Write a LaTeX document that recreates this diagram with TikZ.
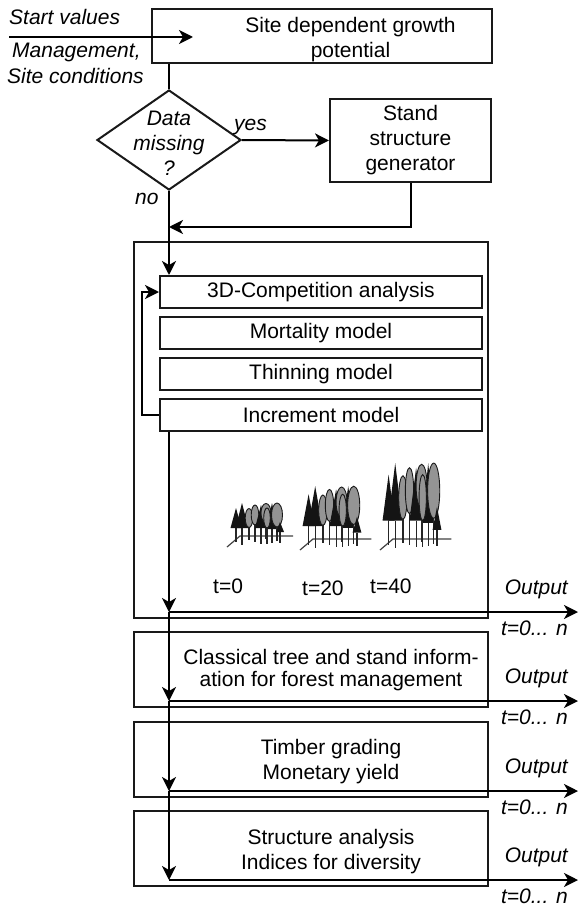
\documentclass[tikz,border=0pt]{standalone}
\usepackage{fontspec}
\setmainfont{Liberation Sans}
\usepackage{tikz}
\usetikzlibrary{arrows.meta,positioning,shapes.geometric}
\tikzset{
  box/.style={draw=black!90, line width=2pt, minimum height=32pt, inner sep=0pt,
    align=center, font=\fontsize{21}{25}\selectfont},
  txt/.style={align=center, inner sep=0pt, font=\fontsize{21}{25}\selectfont},
  itl/.style={inner sep=0pt, font=\fontsize{21}{25}\selectfont\itshape},
  decide/.style={diamond, draw=black!90, line width=2pt, inner sep=0pt,
    minimum width=144pt, minimum height=100pt},
  flow/.style={-{Stealth[length=14pt,width=14pt,inset=4pt]}, line width=2pt},
  link/.style={line width=2pt},
  trunk/.style={line width=1.2pt, black!85},
  ground/.style={line width=1.2pt, black!75},
  conif/.style={fill=black!92},
  decid/.style={fill=black!42, draw=black!90, line width=0.9pt}
}
% one tree: x, crown top, crown base, half width, trunk end
\newcommand{\conifer}[5]{%
  \draw[trunk] ({#1*\stx},{#3*\sty}) -- ({#1*\stx},#5);
  \fill[conif] ({#1*\stx},{#2*\sty}) -- ({(#1+#4)*\stx},{#3*\sty})
    -- ({(#1-#4)*\stx},{#3*\sty}) -- cycle;}
% x, crown centre, radii, trunk end
\newcommand{\broadleaf}[5]{%
  \draw[trunk] ({#1*\stx},{#2*\sty}) -- ({#1*\stx},#5);
  \filldraw[decid] ({#1*\stx},{#2*\sty})
    ellipse [x radius={#3*\stx*1pt}, y radius={#4*\sty*1pt}];}
\newcommand{\treestand}{%
  \draw[ground] (-13,11) -- (0,0) -- ({53*\stx},0);
  \conifer{-4}{-28}{-8}{5.5}{6}
  \conifer{2}{-33}{-8}{6.5}{9}
  \broadleaf{9}{-18}{3.8}{9.5}{4}
  \broadleaf{15}{-21}{3.8}{10}{6}
  \conifer{21}{-31}{-8}{6}{8}
  \broadleaf{26}{-23}{5}{9.5}{3}
  \conifer{32}{-33}{-7}{5.5}{7}
  \broadleaf{37}{-21}{5.5}{12}{5}
  \broadleaf{27}{-18}{3.3}{10}{8}
  \conifer{40}{-14}{-4}{4}{7}}

\begin{document}
\begin{tikzpicture}[x=1pt, y=-1pt]
  \useasboundingbox (0,0) rectangle (579,907);

  % inputs
  \node[itl, anchor=base west] (start) at (9,25) {Start values};
  \node[itl, anchor=base west] (mgmt) at (12,57) {Management,};
  \node[itl, anchor=base west] (cond) at (7,83) {Site conditions};
  \coordinate (inflow) at (9,37);
  \coordinate (inflowend) at (193,37);

  % growth potential, check, generator
  \node[box, minimum width=340pt, minimum height=54pt] (site) at (321.5,36.5) {};
  \node[txt] (sitetxt) at ([xshift=29pt,yshift=-3pt]site.center)
    {Site dependent growth\\potential};
  \node[decide] (dec) at (169,140) {};
  \node[txt, font=\fontsize{21}{25}\selectfont\itshape] (dectxt) at (169,143)
    {Data\\missing\\?};
  \node[box, minimum width=161pt, minimum height=83pt] (gen) at (410.5,140.5)
    {Stand\\structure\\generator};
  \node[itl, anchor=base west] (yes) at (234,130) {yes};
  \node[itl, anchor=base west] (no) at (135,204) {no};

  \draw[flow] (inflow) -- (inflowend);
  \draw[link] (site.south -| dec.north) -- (dec.north);
  \draw[flow] (dec.east) -- (gen.west);
  \coordinate (merge) at (dec.south |- 0,227);
  \draw[flow] (gen.south) |- (merge);

  % simulation loop
  \node[box, minimum width=354pt, minimum height=376pt] (sim) at (311,430) {};
  \node[box, minimum width=322pt] (comp) at (321,292) {3D-Competition analysis};
  \node[box, minimum width=322pt, below=7pt of comp] (mort) {Mortality model};
  \node[box, minimum width=322pt, below=7pt of mort] (thin) {Thinning model};
  \node[box, minimum width=322pt, below=7pt of thin] (incr) {Increment model};
  \draw[flow] (dec.south) -- (comp.north -| dec.south);
  \draw[flow] (incr.west) -- ++(-17,0) |- (comp.west);

  % stands at t=0, 20, 40
  \begin{scope}[shift={(240,536)}]\def\stx{1}\def\sty{1}\treestand\end{scope}
  \begin{scope}[shift={(313,539)}]\def\stx{1.1}\def\sty{1.6}\treestand\end{scope}
  \begin{scope}[shift={(393,539)}]\def\stx{1.1}\def\sty{2.3}\treestand\end{scope}
  \node[txt, anchor=base west] (t0) at (213,593) {t=0};
  \node[txt, anchor=base west] (t20) at (302,595) {t=20};
  \node[txt, anchor=base west] (t40) at (370,593) {t=40};

  % evaluation
  \node[box, minimum width=354pt, minimum height=75pt, below=12pt of sim] (classic) {};
  \node[txt] (classictxt) at ([xshift=20pt,yshift=-1pt]classic.center)
    {Classical tree and stand inform-\\[-3pt]ation for forest management};
  \node[box, minimum width=354pt, minimum height=75pt, below=13pt of classic] (timber) {};
  \node[txt] (timbertxt) at ([xshift=20pt,yshift=-2.5pt]timber.center)
    {Timber grading\\Monetary yield};
  \node[box, minimum width=354pt, minimum height=75pt, below=12pt of timber] (struct) {};
  \node[txt] (structtxt) at ([xshift=20pt,yshift=-3.5pt]struct.center)
    {Structure analysis\\Indices for diversity};

  % outputs
  \foreach \b [count=\j] in {sim,classic,timber,struct}{
    \path ([yshift=7pt]\b.south) coordinate (b\j);
    \coordinate (j\j) at (dec.south |- b\j);
    \coordinate (o\j) at (b\j -| 578,0);
  }
  \draw[flow] (incr.south -| dec.south) -- (j1);
  \draw[flow] (j1) -- (j2);
  \draw[flow] (j2) -- (j3);
  \draw[flow] (j3) -- (j4);
  \foreach \j in {1,...,4}{
    \draw[flow] (j\j) -- (o\j);
    \node[itl, anchor=base east] (out\j) at ([xshift=-10pt,yshift=18pt]o\j) {Output};
    \node[itl, anchor=base east] (span\j) at ([xshift=-10pt,yshift=-23pt]o\j) {t=0... n};
  }
\end{tikzpicture}
\end{document}
